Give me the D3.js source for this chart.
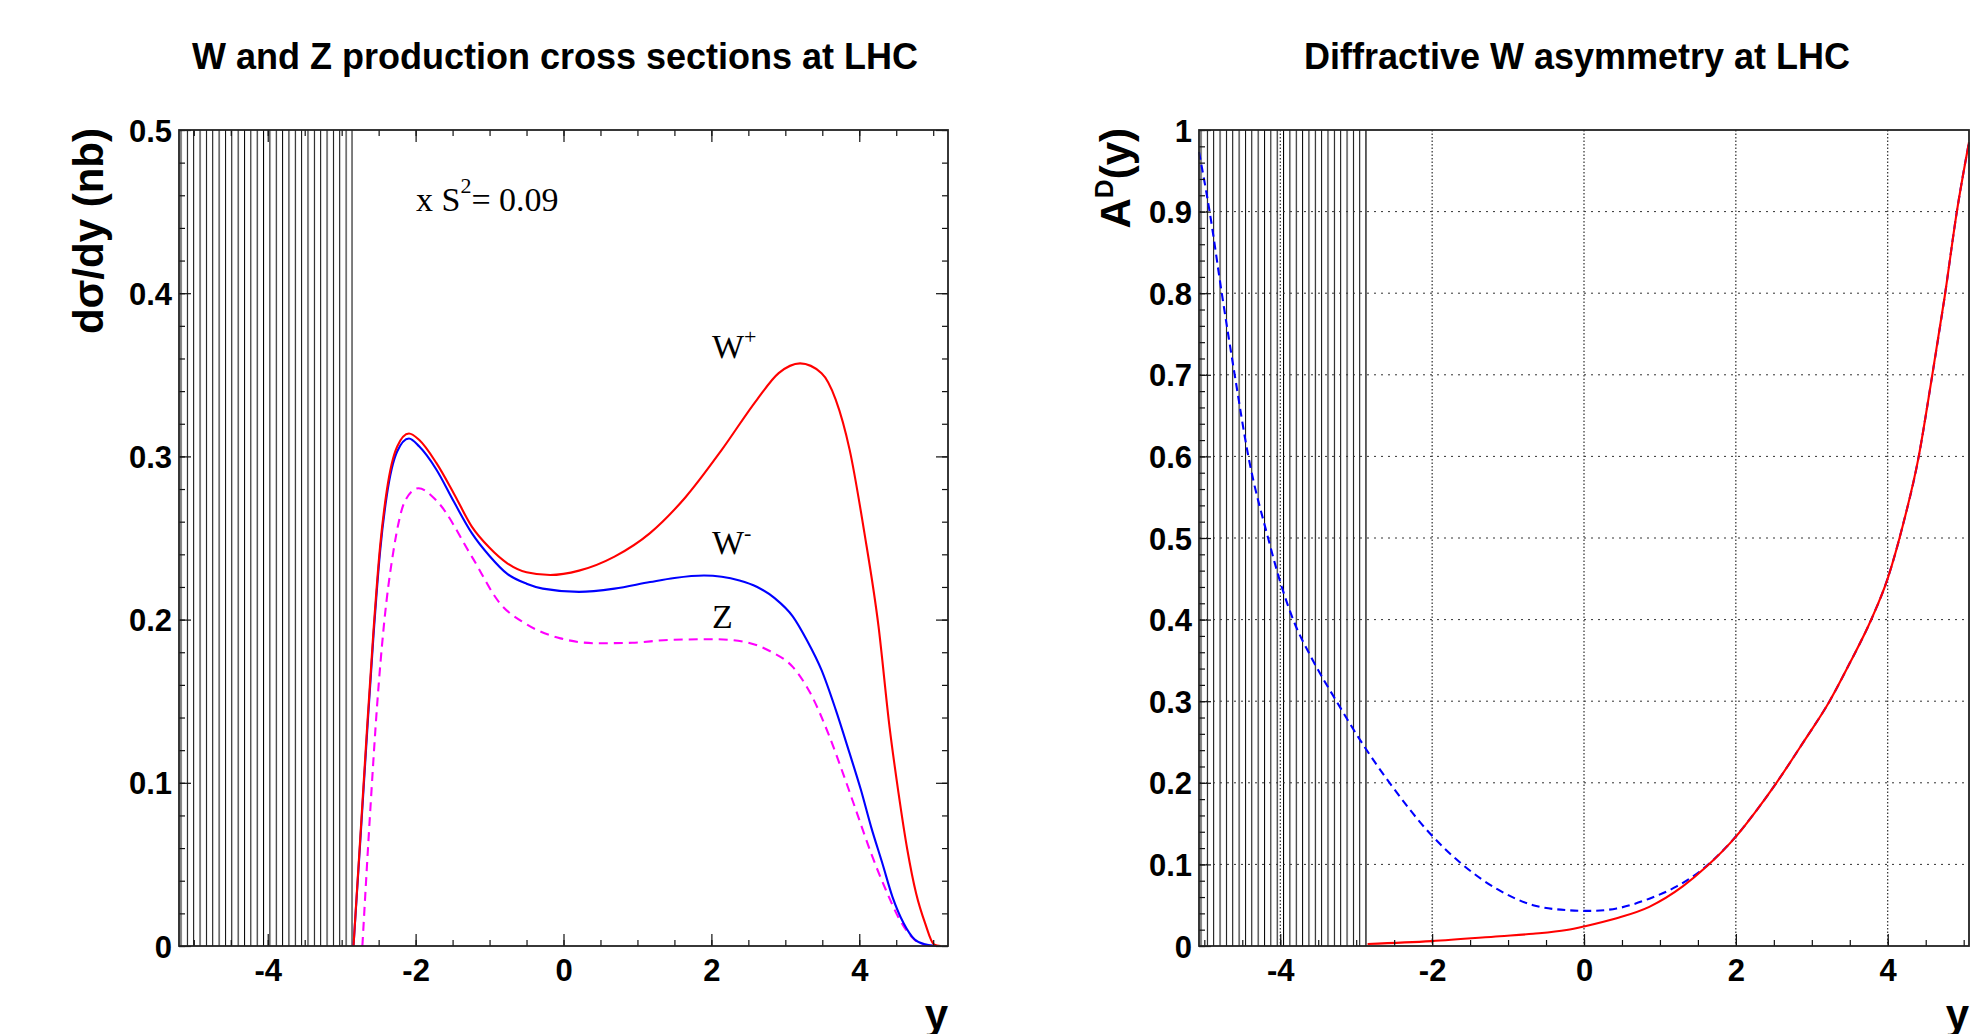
<!DOCTYPE html>
<html>
<head>
<meta charset="utf-8">
<script src="https://cdn.jsdelivr.net/npm/d3@7"></script>
<style>
  body { margin: 0; background: #fff; }
  svg { display: block; }
  .tick-label { font-family: 'Liberation Sans', Arial, sans-serif; font-weight: bold; font-size: 31px; fill: #000; }
  .axis-title { font-family: 'Liberation Sans', Arial, sans-serif; font-weight: bold; font-size: 42px; fill: #000; }
  .plot-title { font-family: 'Liberation Sans', Arial, sans-serif; font-weight: bold; font-size: 36px; fill: #000; }
  .note { font-family: 'Liberation Serif', 'Times New Roman', serif; font-size: 34px; fill: #000; }
</style>
</head>
<body>
<svg id="chart"></svg>
<script>
// ---- left panel: dsigma/dy for W+, W-, Z (nb) vs rapidity y
const wPlusY = [-2.84, -2.75, -2.66, -2.57, -2.48, -2.39, -2.25, -2.09, -1.95, -1.72, -1.48, -1.24, -1.0, -0.76, -0.5, -0.18, 0.21, 0.69, 1.17, 1.65, 2.14, 2.62, 2.91, 3.2, 3.49, 3.68, 3.87, 4.07, 4.26, 4.41, 4.53, 4.65, 4.77, 4.89, 5.01, 5.1]
const wPlusV = [0.0, 0.065, 0.131, 0.193, 0.245, 0.279, 0.306, 0.314, 0.31, 0.296, 0.277, 0.257, 0.244, 0.2345, 0.229, 0.2273, 0.230, 0.2386, 0.253, 0.275, 0.304, 0.335, 0.351, 0.357, 0.351, 0.335, 0.304, 0.253, 0.196, 0.134, 0.094, 0.059, 0.032, 0.014, 0.001, 0.0]

const wMinusY = [-2.84, -2.75, -2.66, -2.57, -2.48, -2.39, -2.25, -2.09, -1.95, -1.72, -1.48, -1.24, -1.0, -0.76, -0.5, -0.28, 0.21, 0.69, 1.17, 1.5, 1.9, 2.38, 2.62, 2.86, 3.1, 3.29, 3.49, 3.68, 3.87, 4.02, 4.16, 4.31, 4.45, 4.6, 4.75, 4.89, 5.05]
const wMinusV = [0.0, 0.063, 0.128, 0.19, 0.242, 0.276, 0.303, 0.311, 0.306, 0.292, 0.272, 0.253, 0.239, 0.228, 0.222, 0.219, 0.217, 0.219, 0.223, 0.2255, 0.227, 0.224, 0.22, 0.213, 0.202, 0.1875, 0.169, 0.145, 0.118, 0.096, 0.073, 0.051, 0.030, 0.014, 0.004, 0.001, 0.0]

const zY = [-2.72, -2.61, -2.52, -2.43, -2.30, -2.14, -1.96, -1.72, -1.24, -0.86, -0.52, -0.04, 0.45, 0.93, 1.41, 2.04, 2.43, 2.81, 3.1, 3.34, 3.58, 3.78, 3.97, 4.16, 4.36, 4.55, 4.75, 4.89, 5.0]
const zV = [0.0, 0.0855, 0.148, 0.196, 0.242, 0.273, 0.2805, 0.273, 0.2386, 0.21, 0.1977, 0.1885, 0.1855, 0.1858, 0.1875, 0.188, 0.1865, 0.1803, 0.171, 0.1548, 0.1303, 0.1058, 0.0813, 0.0568, 0.0343, 0.0159, 0.0037, 0.0006, 0.0]

// ---- right panel: diffractive asymmetry A^D(y)
const asymBlueY = [-5.07, -4.93, -4.77, -4.6, -4.42, -4.16, -3.98, -3.83, -3.57, -3.26, -2.89, -2.56, -2.01, -1.59, -1.13, -0.67, -0.23, 0.08, 0.43, 0.86, 1.22, 1.52, 1.96, 2.27, 2.53, 2.9, 3.23, 3.5, 3.78, 4.0, 4.2, 4.4, 4.58, 4.75, 4.91, 5.07]
const asymBlueV = [0.973, 0.9, 0.8, 0.7, 0.6, 0.5, 0.44, 0.40, 0.35, 0.30, 0.244, 0.20, 0.136, 0.099, 0.069, 0.050, 0.044, 0.043, 0.046, 0.058, 0.073, 0.091, 0.13, 0.166, 0.1994, 0.2514, 0.2994, 0.3467, 0.3995, 0.4506, 0.516, 0.596, 0.696, 0.796, 0.9, 0.985]

const asymRedY = [-2.85, -2.01, -1.11, -0.67, -0.23, 0.0, 0.43, 0.86, 1.3, 1.61, 2.0, 2.27, 2.53, 2.9, 3.23, 3.5, 3.78, 4.0, 4.2, 4.4, 4.58, 4.75, 4.91, 5.07]
const asymRedV = [0.0025, 0.006, 0.012, 0.015, 0.0196, 0.024, 0.034, 0.048, 0.073, 0.097, 0.134, 0.166, 0.1994, 0.2514, 0.2994, 0.3467, 0.3995, 0.4506, 0.516, 0.596, 0.696, 0.796, 0.9, 0.985]

// ---- ticks
const xTicks = [-4, -2, 0, 2, 4]
const xTickLabels = ['-4', '-2', '0', '2', '4']
const leftYTicks = [0, 0.1, 0.2, 0.3, 0.4, 0.5]
const leftYTickLabels = ['0', '0.1', '0.2', '0.3', '0.4', '0.5']
const rightYTicks = [0, 0.1, 0.2, 0.3, 0.4, 0.5, 0.6, 0.7, 0.8, 0.9, 1]
const rightYTickLabels = ['0', '0.1', '0.2', '0.3', '0.4', '0.5', '0.6', '0.7', '0.8', '0.9', '1']

const svg = d3.select('#chart').attr('width', 1972).attr('height', 1034)
const defs = svg.append('defs')

class Panel {

    constructor(config) {
        this.config = config
        this.initVis()
    }

    initVis() {
        let vis = this
        const c = vis.config

        vis.xScale = d3.scaleLinear().domain(c.xDomain).range([c.left, c.right])
        vis.yScale = d3.scaleLinear().domain(c.yDomain).range([c.bottom, c.top])

        vis.g = svg.append('g')

        // hatched (excluded) rapidity region
        const pat = defs.append('pattern')
            .attr('id', c.id + '-hatch')
            .attr('patternUnits', 'userSpaceOnUse')
            .attr('x', c.left + 1.5)
            .attr('y', 0)
            .attr('width', 6.35)
            .attr('height', 20)
        pat.append('line')
            .attr('x1', 0.5).attr('x2', 0.5)
            .attr('y1', 0).attr('y2', 20)
            .attr('stroke', '#000').attr('stroke-width', 1)

        const hx = vis.xScale(c.hatchEnd)
        vis.g.append('rect')
            .attr('x', c.left)
            .attr('y', c.top)
            .attr('width', hx - c.left)
            .attr('height', c.bottom - c.top)
            .attr('fill', `url(#${c.id}-hatch)`)
        vis.g.append('line')
            .attr('x1', hx).attr('x2', hx)
            .attr('y1', c.top).attr('y2', c.bottom)
            .attr('stroke', '#000').attr('stroke-width', 1)

        if (c.grid) {
            vis.g.append('g').selectAll('line')
                .data(xTicks)
                .join('line')
                    .attr('x1', d => vis.xScale(d)).attr('x2', d => vis.xScale(d))
                    .attr('y1', c.top).attr('y2', c.bottom)
                    .attr('stroke', '#000').attr('stroke-width', 1)
                    .attr('stroke-dasharray', '1.5,2')
            vis.g.append('g').selectAll('line')
                .data(c.yTicks.slice(1, -1))
                .join('line')
                    .attr('x1', c.left).attr('x2', c.right)
                    .attr('y1', d => vis.yScale(d)).attr('y2', d => vis.yScale(d))
                    .attr('stroke', '#333').attr('stroke-width', 1)
                    .attr('stroke-dasharray', '2,5')
        }

        vis.line = d3.line()
            .x(d => vis.xScale(d[0]))
            .y(d => vis.yScale(d[1]))
            .curve(d3.curveMonotoneX)

        vis.g.append('g').selectAll('path')
            .data(c.series)
            .join('path')
                .attr('d', s => vis.line(d3.zip(s.x, s.y)))
                .attr('fill', 'none')
                .attr('stroke', s => s.color)
                .attr('stroke-width', 2.1)
                .attr('stroke-dasharray', s => s.dash || null)

        vis.drawAxes()
        vis.drawText()
    }

    drawAxes() {
        let vis = this
        const c = vis.config
        const xMinor = d3.range(-5, 5.01, 0.5)
        const yMinor = d3.range(c.yDomain[0], c.yDomain[1] + 1e-6, 0.02)

        const addTicks = (axis, transform) => {
            vis.g.append('g')
                .attr('transform', transform)
                .call(axis)
                .call(g => g.select('.domain').remove())
                .call(g => g.selectAll('.tick line').attr('stroke', '#111').attr('stroke-width', 1.2))
        }

        // minor ticks
        addTicks(d3.axisBottom(vis.xScale).tickValues(xMinor).tickSize(-6).tickFormat(''), `translate(0,${c.bottom})`)
        addTicks(d3.axisLeft(vis.yScale).tickValues(yMinor).tickSize(-6).tickFormat(''), `translate(${c.left},0)`)
        if (c.mirror) {
            addTicks(d3.axisTop(vis.xScale).tickValues(xMinor).tickSize(-6).tickFormat(''), `translate(0,${c.top})`)
            addTicks(d3.axisRight(vis.yScale).tickValues(yMinor).tickSize(-6).tickFormat(''), `translate(${c.right},0)`)
            addTicks(d3.axisTop(vis.xScale).tickValues(xTicks).tickSize(-12).tickFormat(''), `translate(0,${c.top})`)
            addTicks(d3.axisRight(vis.yScale).tickValues(c.yTicks).tickSize(-12).tickFormat(''), `translate(${c.right},0)`)
        }

        // major ticks with labels
        vis.g.append('g')
            .attr('transform', `translate(0,${c.bottom})`)
            .call(d3.axisBottom(vis.xScale).tickValues(xTicks).tickSize(-12).tickFormat((d, i) => xTickLabels[i]))
            .call(g => g.select('.domain').remove())
            .call(g => g.selectAll('.tick line').attr('stroke', '#111').attr('stroke-width', 1.2))
            .call(g => g.selectAll('.tick text')
                .attr('class', 'tick-label')
                .attr('font-family', null).attr('font-size', null)
                .attr('y', 35).attr('dy', null))

        vis.g.append('g')
            .attr('transform', `translate(${c.left},0)`)
            .call(d3.axisLeft(vis.yScale).tickValues(c.yTicks).tickSize(-12).tickPadding(7).tickFormat((d, i) => c.yTickLabels[i]))
            .call(g => g.select('.domain').remove())
            .call(g => g.selectAll('.tick line').attr('stroke', '#111').attr('stroke-width', 1.2))
            .call(g => g.selectAll('.tick text')
                .attr('class', 'tick-label')
                .attr('font-family', null).attr('font-size', null)
                .attr('dy', '0.36em'))

        // frame
        vis.g.append('rect')
            .attr('x', c.left).attr('y', c.top)
            .attr('width', c.right - c.left).attr('height', c.bottom - c.top)
            .attr('fill', 'none')
            .attr('stroke', '#222').attr('stroke-width', 1.8)
    }

    drawText() {
        let vis = this
        const c = vis.config

        svg.append('text')
            .attr('class', 'plot-title')
            .attr('x', c.titleX).attr('y', 69)
            .attr('text-anchor', 'middle')
            .text(c.title)

        // axis title sits at the lower edge, partly cut off as in the original
        svg.append('text')
            .attr('class', 'axis-title')
            .attr('x', c.right).attr('y', 1029)
            .attr('text-anchor', 'end')
            .text('y')

        const yt = svg.append('text')
            .attr('class', 'axis-title')
            .attr('transform', `translate(${c.yTitleX},${c.top - 2}) rotate(-90)`)
            .attr('text-anchor', 'end')
        c.yTitle.forEach(part => {
            yt.append('tspan')
                .attr('font-size', part.size || null)
                .attr('dy', part.dy || 0)
                .text(part.t)
        })
    }
}

new Panel({
    id: 'xs',
    left: 179, right: 948, top: 130, bottom: 946,
    xDomain: [-5.2, 5.2], yDomain: [0, 0.5],
    yTicks: leftYTicks, yTickLabels: leftYTickLabels,
    hatchEnd: -2.86,
    mirror: true, grid: false,
    title: 'W and Z production cross sections at LHC', titleX: 555,
    yTitleX: 103,
    yTitle: [{t: 'dσ/dy (nb)'}],
    series: [
        {x: zY, y: zV, color: '#ff00ff', dash: '9,6'},
        {x: wMinusY, y: wMinusV, color: '#0000ff'},
        {x: wPlusY, y: wPlusV, color: '#ff0000'}
    ]
})

new Panel({
    id: 'asym',
    left: 1199, right: 1969, top: 130, bottom: 946,
    xDomain: [-5.07, 5.07], yDomain: [0, 1],
    yTicks: rightYTicks, yTickLabels: rightYTickLabels,
    hatchEnd: -2.87,
    mirror: false, grid: true,
    title: 'Diffractive W asymmetry at LHC', titleX: 1577,
    yTitleX: 1130,
    yTitle: [{t: 'A'}, {t: 'D', size: '26px', dy: -17}, {t: '(y)', size: '42px', dy: 17}],
    series: [
        {x: asymBlueY, y: asymBlueV, color: '#0000ff', dash: '8,5'},
        {x: asymRedY, y: asymRedV, color: '#ff0000'}
    ]
})

// annotations on the left panel
const note = svg.append('text').attr('class', 'note').attr('x', 416).attr('y', 211)
note.append('tspan').text('x S')
note.append('tspan').attr('font-size', '22px').attr('dy', -18).text('2')
note.append('tspan').attr('dy', 18).text('= 0.09')

const labels = [
    {base: 'W', sup: '+', y: 358},
    {base: 'W', sup: '-', y: 554},
    {base: 'Z', sup: '', y: 628}
]
labels.forEach(l => {
    const t = svg.append('text').attr('class', 'note').attr('x', 712).attr('y', l.y)
    t.append('tspan').text(l.base)
    if (l.sup) t.append('tspan').attr('font-size', '22px').attr('dy', -14).text(l.sup)
})
</script>
</body>
</html>
